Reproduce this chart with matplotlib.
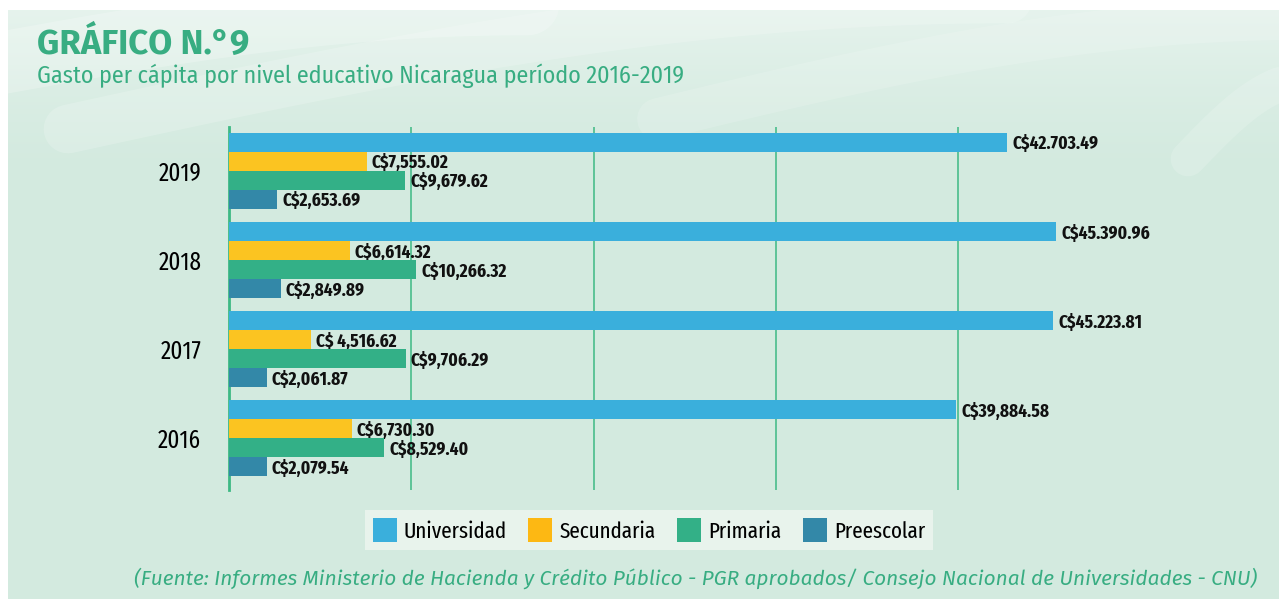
import numpy as np
import matplotlib
matplotlib.use("Agg")
import matplotlib.pyplot as plt
from matplotlib.patches import Patch

NARROW = ["Fira Sans Extra Condensed", "Fira Sans Condensed", "DejaVu Sans"]
plt.rcParams["font.family"] = NARROW

# --- datos ---
years = ["2016", "2017", "2018", "2019"]
universidad = [39884.58, 45223.81, 45390.96, 42703.49]
secundaria = [6730.30, 4516.62, 6614.32, 7555.02]
primaria = [8529.40, 9706.29, 10266.32, 9679.62]
preescolar = [2079.54, 2061.87, 2849.89, 2653.69]
lab_univ = ["C$39,884.58", "C$45.223.81", "C$45.390.96", "C$42.703.49"]
lab_sec = ["C$6,730.30", "C$ 4,516.62", "C$6,614.32", "C$7,555.02"]
lab_prim = ["C$8,529.40", "C$9,706.29", "C$10,266.32", "C$9,679.62"]
lab_pre = ["C$2,079.54", "C$2,061.87", "C$2,849.89", "C$2,653.69"]
series = ["Universidad", "Secundaria", "Primaria", "Preescolar"]
colors = ["#3aafdc", "#fbc421", "#33b087", "#3388a8"]
legend_colors = ["#3aafdc", "#fdb813", "#33b087", "#3388a8"]

W, H = 1279, 599
GREEN = "#38ad82"
fig = plt.figure(figsize=(W / 100, H / 100), dpi=100, facecolor="white")

# fondo verde con trazos blancos suaves arriba
bg = fig.add_axes([8 / W, 0, 1 - 8 / W, 589 / H])
bg.set_xlim(0, W - 8); bg.set_ylim(0, 589); bg.axis("off")
bg.add_patch(plt.Rectangle((0, 0), W - 8, 589, color="#d3eadf", zorder=0))
grad = np.zeros((200, 1, 4)); grad[..., :3] = 1.0
grad[:, 0, 3] = np.linspace(0.55, 0.0, 200) ** 1.4
bg.imshow(grad, extent=(0, W - 8, 420, 589), aspect="auto", zorder=1)
t = np.linspace(0, 1, 60)
for (x0, y0, x1, y1, lw, a) in [(-40, 530, 520, 595, 45, 0.22), (60, 470, 1000, 600, 35, 0.18),
                                 (650, 480, 1300, 580, 30, 0.14), (1180, 440, 1300, 520, 25, 0.16)]:
    xs = x0 + (x1 - x0) * t
    ys = y0 + (y1 - y0) * np.sin(t * np.pi / 2)
    bg.plot(xs, ys, color="white", lw=lw, alpha=a, solid_capstyle="round", zorder=2)

# --- gráfico de barras ---
ax = fig.add_axes([229 / W, 1 - 490 / H, 902 / W, 363 / H])
ax.patch.set_alpha(0)
y = np.arange(len(years))
h = 0.213
vals = [universidad, secundaria, primaria, preescolar]
labs = [lab_univ, lab_sec, lab_prim, lab_pre]
offs = [1.5 * h, 0.5 * h, -0.5 * h, -1.5 * h]
for v, lb, c, o in zip(vals, labs, colors, offs):
    bars = ax.barh(y + o, v, height=h, color=c, zorder=3)
    for b, s in zip(bars, lb):
        ax.annotate(s, (b.get_width(), b.get_y() + h / 2), xytext=(5, -2), textcoords="offset pixels",
                    ha="left", va="center", fontsize=13.5, fontweight="bold", color="#111111")

ax.set_xlim(0, 49480)
ax.set_ylim(-0.58, 3.49)
ax.set_xticks([10000, 20000, 30000, 40000])
ax.xaxis.grid(True, color="#3db984", lw=1.1, zorder=1)
ax.tick_params(axis="x", length=0, labelbottom=False)
ax.set_yticks(y)
ax.set_yticklabels(years, fontsize=18)
ax.tick_params(axis="y", length=0, pad=20)
for sp in ["top", "right", "bottom"]:
    ax.spines[sp].set_visible(False)
ax.spines["left"].set_color("#3db984")
ax.spines["left"].set_linewidth(2)

# leyenda
handles = [Patch(facecolor=c, edgecolor="none") for c in legend_colors]
leg = fig.legend(handles, series, loc="center", bbox_to_anchor=(649 / W, 1 - 530 / H), ncol=4,
                 frameon=True, fontsize=16.5, handlelength=1.05, handleheight=1.2, columnspacing=0.95,
                 handletextpad=0.3, borderpad=0.35, borderaxespad=0, fancybox=False)
leg.get_frame().set_facecolor("#e8f3ec"); leg.get_frame().set_edgecolor("none"); leg.get_frame().set_alpha(1)

# títulos
fig.text(37 / W, 1 - 44 / H, "GRÁFICO N.°9", fontsize=25, fontweight="bold", color=GREEN, va="center",
         family=["Fira Sans", "DejaVu Sans"])
fig.text(37 / W, 1 - 76 / H, "Gasto per cápita por nivel educativo Nicaragua período 2016-2019",
         fontsize=17.3, color=GREEN, va="center", family=["Fira Sans Condensed", "DejaVu Sans"])
fig.text(1257 / W, 1 - 578 / H,
         "(Fuente: Informes Ministerio de Hacienda y Crédito Público - PGR aprobados/ Consejo Nacional de Universidades - CNU)",
         fontsize=15, style="italic", color=GREEN, ha="right", va="center", family=["Fira Sans", "DejaVu Sans"])

fig.savefig("out.png", dpi=100, facecolor=fig.get_facecolor())
